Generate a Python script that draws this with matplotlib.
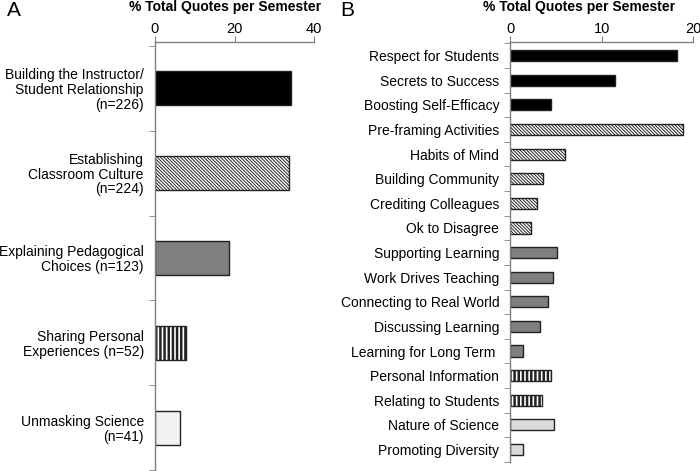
import matplotlib
matplotlib.use("Agg")
import matplotlib.pyplot as plt

plt.rcParams["font.family"] = ["Liberation Sans", "DejaVu Sans"]

# --- panel A: themes -------------------------------------------------------- #
A_LABELS = [
    "Building the Instructor/\nStudent Relationship\n(n=226)",
    "Establishing\nClassroom Culture\n(n=224)",
    "Explaining Pedagogical\nChoices (n=123)",
    "Sharing Personal\nExperiences (n=52)",
    "Unmasking Science\n(n=41)",
]
A_VALUES = [34.2, 33.7, 18.7, 7.9, 6.2]
A_GROUP = [0, 1, 2, 3, 4]

# --- panel B: sub-themes ---------------------------------------------------- #
B_LABELS = [
    "Respect for Students", "Secrets to Success", "Boosting Self-Efficacy",
    "Pre-framing Activities", "Habits of Mind", "Building Community",
    "Crediting Colleagues", "Ok to Disagree", "Supporting Learning",
    "Work Drives Teaching", "Connecting to Real World", "Discussing Learning",
    "Learning for Long Term ", "Personal Information", "Relating to Students",
    "Nature of Science", "Promoting Diversity",
]
B_VALUES = [18.2, 11.4, 4.4, 18.9, 6.0, 3.6, 2.9, 2.3, 5.1, 4.7, 4.1, 3.3,
            1.35, 4.4, 3.5, 4.8, 1.35]
B_GROUP = [0, 0, 0, 1, 1, 1, 1, 1, 2, 2, 2, 2, 2, 3, 3, 4, 4]

# fill style per theme group: (facecolor, hatch, hatch linewidth)
DIAG = "\\" * 10
VERT = "|" * 4
STYLE_A = [("black", "", 1.0), ("white", DIAG, 0.7), ("#7f7f7f", "", 1.0),
           ("white", VERT, 1.8), ("#f2f2f2", "", 1.0)]
STYLE_B = [("black", "", 1.0), ("white", DIAG, 0.7), ("#7f7f7f", "", 1.0),
           ("white", VERT, 1.8), ("#d9d9d9", "", 1.0)]

AXIS_GRAY = "#808080"


def draw_panel(ax, labels, values, groups, styles, xmax, xticks, height, fs,
               top_pad):
    n = len(labels)
    ys = list(range(n))
    for y, v, g in zip(ys, values, groups):
        fc, hatch, hlw = styles[g]
        with plt.rc_context({"hatch.linewidth": hlw, "hatch.color": "black"}):
            ax.barh(y, v, height=height, color=fc, hatch=hatch,
                    edgecolor="#222222", linewidth=1.0)
    ax.set_ylim(n - 0.5, -0.5 - top_pad)
    ax.set_xlim(0, xmax)
    ax.xaxis.tick_top()
    ax.set_xticks(xticks)
    ax.set_xticklabels([str(t) for t in xticks], fontsize=10.5)
    ax.tick_params(axis="x", direction="out", length=4, color=AXIS_GRAY, pad=0)
    ax.set_yticks(ys)
    ax.set_yticklabels(labels, fontsize=fs, linespacing=1.05)
    ax.tick_params(axis="y", which="major", length=0, pad=8)
    ax.set_yticks([y + 0.5 for y in range(-1, n)], minor=True)
    ax.tick_params(axis="y", which="minor", direction="out", length=4,
                   color=AXIS_GRAY)
    for s in ("right", "bottom"):
        ax.spines[s].set_visible(False)
    for s in ("left", "top"):
        ax.spines[s].set_color(AXIS_GRAY)
        ax.spines[s].set_linewidth(1.0)


fig = plt.figure(figsize=(7.0, 4.71), dpi=100)
axA = fig.add_axes([0.2214, 0.002, 0.2272, 0.9097])
axB = fig.add_axes([0.729, 0.0196, 0.2614, 0.8919])

draw_panel(axA, A_LABELS, A_VALUES, A_GROUP, STYLE_A, 40, [0, 20, 40], 0.40,
           10, 0.05)
draw_panel(axB, B_LABELS, B_VALUES, B_GROUP, STYLE_B, 20, [0, 10, 20], 0.45,
           10, 0.07)

fig.text(225 / 700, 1 - 7 / 471, "% Total Quotes per Semester", ha="center",
         va="center", fontsize=10, fontweight="bold")
fig.text(579 / 700, 1 - 7 / 471, "% Total Quotes per Semester", ha="center",
         va="center", fontsize=10, fontweight="bold")
fig.text(7 / 700, 1 - 11 / 471, "A", fontsize=15, va="center", ha="left")
fig.text(340 / 700, 1 - 11 / 471, "B", fontsize=15, va="center", ha="left")

fig.savefig("out.png", dpi=100)
